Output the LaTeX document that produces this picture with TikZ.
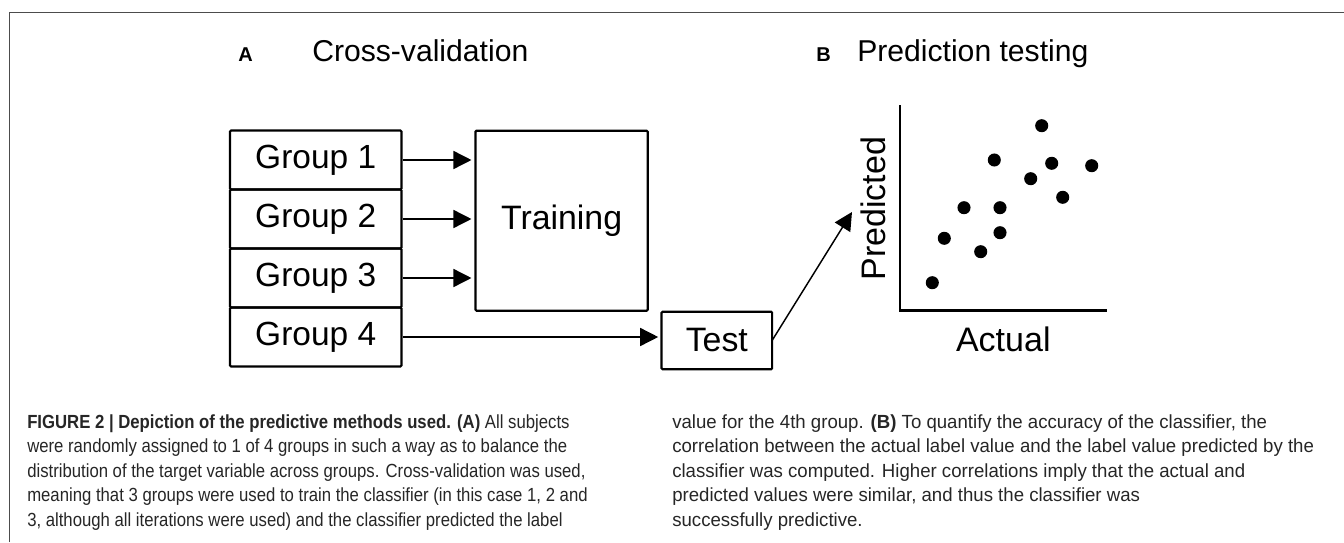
\documentclass[tikz,border=0pt]{standalone}
\usepackage{fontspec}
\setmainfont{Liberation Sans}
\newfontfamily\capfont[FakeStretch=0.88]{Liberation Sans}
\newfontfamily\capfontr[FakeStretch=0.98]{Liberation Sans}
\usetikzlibrary{arrows.meta}
\begin{document}
\begin{tikzpicture}[x=0.75pt,y=-0.75pt,
  grp/.style={draw,line width=1.6pt,rounded corners=0.8pt,inner sep=0pt,outer sep=0pt,
    minimum width=128.6pt,minimum height=44.25pt,font=\fontsize{25.1}{30}\selectfont},
  bigbox/.style={draw,line width=1.6pt,rounded corners=0.8pt,inner sep=0pt,outer sep=0pt,
    font=\fontsize{25.4}{30}\selectfont},
  conn/.style={line width=1.1pt,-{Triangle[length=13.5pt,width=13.5pt]}},
  ttl/.style={inner sep=0pt,font=\fontsize{22.6}{28}\selectfont},
  panel/.style={inner sep=0pt,font=\fontsize{15}{18}\bfseries\selectfont},
  axlab/.style={inner sep=0pt,font=\fontsize{25.5}{30}\selectfont},
  dot/.style={fill=black},
  capline/.style={inner sep=0pt,anchor=base west,text=black!85,font=\capfont\fontsize{14.25}{18}\selectfont},
  caplinr/.style={capline,font=\capfontr\fontsize{14.25}{18}\selectfont},
  frame/.style={draw=black!70,line width=0.8pt}
]
\useasboundingbox (0,0) rectangle (1344,542);
% frame
\draw[frame] (9.3,542) -- (9.3,12.3) -- (1344,12.3);

% titles
\node[panel,anchor=base] (pa) at (245.5,61) {A};
\node[ttl,anchor=base west] (ta) at (312,61) {Cross-validation};
\node[panel,anchor=base] (pb) at (823.5,61) {B};
\node[ttl,anchor=base west] (tb) at (857,61) {Prediction testing};

% groups
\node[grp] (g1) at (315.7,160) {Group 1};
\node[grp] (g2) at (315.7,219) {Group 2};
\node[grp] (g3) at (315.7,278) {Group 3};
\node[grp] (g4) at (315.7,337) {Group 4};

\node[bigbox,minimum width=129.2pt,minimum height=135pt] (train) at (561.6,220.7) {Training};
\node[bigbox,minimum width=82.9pt,minimum height=43.2pt] (test) at (716.8,340.5) {Test};

\draw[conn,shorten <=1.5pt,shorten >=3pt] (g1.east) -- (g1.east -| train.west);
\draw[conn,shorten <=1.5pt,shorten >=3pt] (g2.east) -- (g2.east -| train.west);
\draw[conn,shorten <=1.5pt,shorten >=3pt] (g3.east) -- (g3.east -| train.west);
\draw[conn,shorten <=1.5pt,shorten >=2.5pt] (g4.east) -- (g4.east -| test.west);

\coordinate (tip) at (852,212);
\draw[conn] (test.east) -- (tip);

% scatter plot
\coordinate (ytop) at (900,105);
\coordinate (xend) at (1106.7,310.7);
\draw[line width=1.9pt] (ytop) |- (xend);
\node[axlab,rotate=90,anchor=base] (pred) at (885,208.7) {Predicted};
\node[axlab,anchor=base] (act) at (1003.3,351.7) {Actual};
\foreach \px/\py in {932.3/282.7,944.3/238.3,964/207.7,980.7/251.7,1000/232.7,1000/207.7,
  994.3/160,1030.7/178.7,1041.7/125.7,1051.7/163.3,1062.7/197.3,1091.7/165.7}
  \fill[dot] (\px,\py) circle[radius=4.9pt];

% caption
\node[capline] (c1) at (27,428) {\textbf{FIGURE 2 | Depiction of the predictive methods used. (A)} All subjects};
\node[capline] (c2) at (27,452.5) {were randomly assigned to 1 of 4 groups in such a way as to balance the};
\node[capline] (c3) at (27,477) {distribution of the target variable across groups. Cross-validation was used,};
\node[capline] (c4) at (27,501.5) {meaning that 3 groups were used to train the classifier (in this case 1, 2 and};
\node[capline] (c5) at (27,526) {3, although all iterations were used) and the classifier predicted the label};
\node[caplinr] (d1) at (672,428) {value for the 4th group. \textbf{(B)} To quantify the accuracy of the classifier, the};
\node[caplinr] (d2) at (672,452.5) {correlation between the actual label value and the label value predicted by the};
\node[caplinr] (d3) at (672,477) {classifier was computed. Higher correlations imply that the actual and};
\node[caplinr] (d4) at (672,501.5) {predicted values were similar, and thus the classifier was};
\node[caplinr] (d5) at (672,526) {successfully predictive.};
\end{tikzpicture}
\end{document}
